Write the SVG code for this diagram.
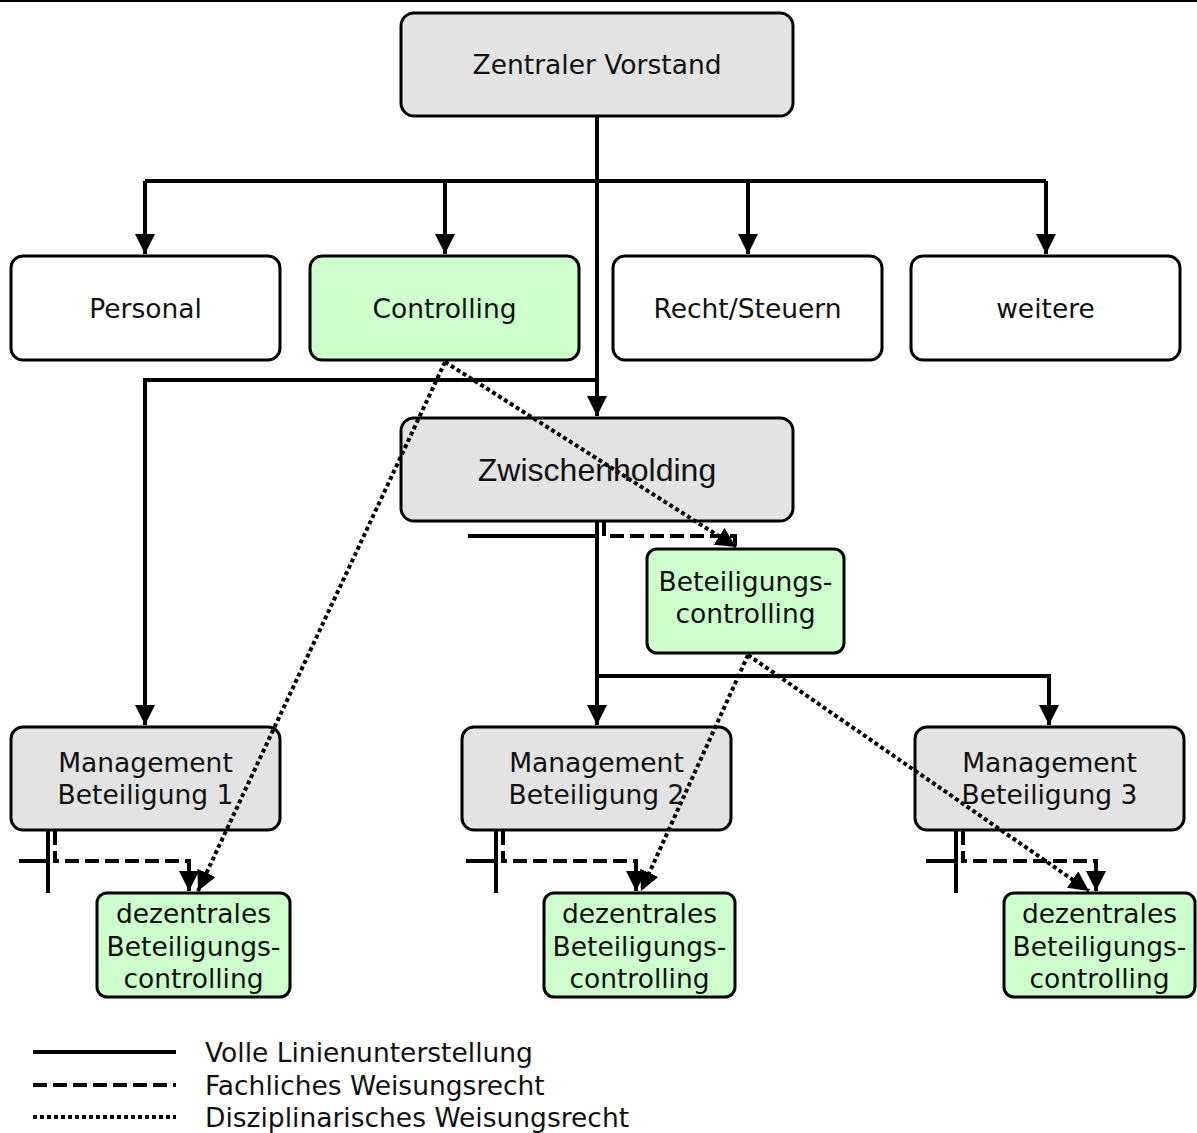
<svg xmlns="http://www.w3.org/2000/svg" width="1197" height="1133" viewBox="0 0 1197 1133">
  <style>
    .box { stroke: #000; stroke-width: 3; }
    .grey { fill: #e3e3e3; }
    .white { fill: #fff; }
    .green { fill: #ccffcc; }
    .lbl { font-family: "DejaVu Sans", Verdana, sans-serif; font-size: 26.5px; fill: #111; text-anchor: middle; }
    .lbl2 { font-family: "Liberation Sans", Arial, sans-serif; font-size: 32px; fill: #111; text-anchor: middle; }
    .leg { font-family: "DejaVu Sans", Verdana, sans-serif; font-size: 26.5px; fill: #111; }
    .solid { fill: none; stroke: #000; stroke-width: 4; }
    .dash { fill: none; stroke: #000; stroke-width: 4; stroke-dasharray: 14 6; }
    .dot { fill: none; stroke: #000; stroke-width: 4; stroke-dasharray: 4 3; }
  </style>
  <defs>
    <marker id="tip" markerWidth="22" markerHeight="22" refX="20" refY="10" markerUnits="userSpaceOnUse" orient="auto">
      <path d="M0,0 L20,10 L0,20 z" fill="#000"/>
    </marker>
  </defs>

  <rect width="1197" height="1133" fill="#fff"/>
  <line x1="0" y1="1" x2="1197" y2="1" stroke="#000" stroke-width="2"/>

  <g id="vorstand">
    <rect class="box grey" x="401" y="13" width="392" height="103" rx="13"/>
    <text class="lbl" x="597" y="74">Zentraler Vorstand</text>
  </g>
  <g id="personal">
    <rect class="box white" x="11" y="256" width="269" height="104" rx="12"/>
    <text class="lbl" x="145.5" y="318">Personal</text>
  </g>
  <g id="controlling">
    <rect class="box green" x="310" y="256" width="269" height="104" rx="12"/>
    <text class="lbl" x="444.5" y="318">Controlling</text>
  </g>
  <g id="recht">
    <rect class="box white" x="613" y="256" width="269" height="104" rx="12"/>
    <text class="lbl" x="747.5" y="318">Recht/Steuern</text>
  </g>
  <g id="weitere">
    <rect class="box white" x="911" y="256" width="269" height="104" rx="12"/>
    <text class="lbl" x="1045.5" y="318">weitere</text>
  </g>
  <g id="zwischenholding">
    <rect class="box grey" x="401" y="418" width="392" height="103" rx="13"/>
    <text class="lbl2" x="597" y="481">Zwischenholding</text>
  </g>
  <g id="beteiligungscontrolling">
    <rect class="box green" x="647" y="549" width="197" height="104" rx="10"/>
    <text class="lbl" x="745.5" y="591">Beteiligungs-</text>
    <text class="lbl" x="745.5" y="623">controlling</text>
  </g>
  <g id="management1">
    <rect class="box grey" x="11" y="727" width="269" height="103" rx="12"/>
    <text class="lbl" x="145.5" y="772">Management</text>
    <text class="lbl" x="145.5" y="804">Beteiligung 1</text>
  </g>
  <g id="management2">
    <rect class="box grey" x="462" y="727" width="269" height="103" rx="12"/>
    <text class="lbl" x="596.5" y="772">Management</text>
    <text class="lbl" x="596.5" y="804">Beteiligung 2</text>
  </g>
  <g id="management3">
    <rect class="box grey" x="915" y="727" width="269" height="103" rx="12"/>
    <text class="lbl" x="1049.5" y="772">Management</text>
    <text class="lbl" x="1049.5" y="804">Beteiligung 3</text>
  </g>
  <g id="dezentral1">
    <rect class="box green" x="97" y="893" width="193" height="104" rx="10"/>
    <text class="lbl" x="193.5" y="923">dezentrales</text>
    <text class="lbl" x="193.5" y="956">Beteiligungs-</text>
    <text class="lbl" x="193.5" y="988">controlling</text>
  </g>
  <g id="dezentral2">
    <rect class="box green" x="544" y="893" width="191" height="104" rx="10"/>
    <text class="lbl" x="639.5" y="923">dezentrales</text>
    <text class="lbl" x="639.5" y="956">Beteiligungs-</text>
    <text class="lbl" x="639.5" y="988">controlling</text>
  </g>
  <g id="dezentral3">
    <rect class="box green" x="1004" y="893" width="191" height="104" rx="10"/>
    <text class="lbl" x="1099.5" y="923">dezentrales</text>
    <text class="lbl" x="1099.5" y="956">Beteiligungs-</text>
    <text class="lbl" x="1099.5" y="988">controlling</text>
  </g>

  <!-- connectors are drawn over the boxes so dotted lines stay visible -->
  <g id="connectors">
    <!-- full line subordination -->
    <path class="solid" d="M597,116 V416" marker-end="url(#tip)"/>
    <path class="solid" d="M145,181 H1046"/>
    <path class="solid" d="M145,181 V254" marker-end="url(#tip)"/>
    <path class="solid" d="M445,181 V254" marker-end="url(#tip)"/>
    <path class="solid" d="M748,181 V254" marker-end="url(#tip)"/>
    <path class="solid" d="M1046,181 V254" marker-end="url(#tip)"/>
    <path class="solid" d="M597,380 H145 V725" marker-end="url(#tip)"/>
    <path class="solid" d="M597,522 V725" marker-end="url(#tip)"/>
    <path class="solid" d="M468,536 H597"/>
    <path class="solid" d="M597,676 H1049 V725" marker-end="url(#tip)"/>
    <path class="solid" d="M48,831 V893 M19,861 H48"/>
    <path class="solid" d="M496,831 V893 M466,861 H496"/>
    <path class="solid" d="M956,831 V893 M926,861 H956"/>

    <!-- technical authority -->
    <path class="dash" d="M604,522 V536 H735 V548"/>
    <path class="dash" d="M55,831 V861 H189 V891" marker-end="url(#tip)"/>
    <path class="dash" d="M503,831 V861 H636 V891" marker-end="url(#tip)"/>
    <path class="dash" d="M963,831 V861 H1096 V891" marker-end="url(#tip)"/>

    <!-- disciplinary authority -->
    <path class="dot" d="M445,362 L198,891" marker-end="url(#tip)"/>
    <path class="dot" d="M445,362 L736,547" marker-end="url(#tip)"/>
    <path class="dot" d="M748,655 L641,891" marker-end="url(#tip)"/>
    <path class="dot" d="M748,655 L1089,891" marker-end="url(#tip)"/>
  </g>

  <g id="legend">
    <line class="solid" x1="33" y1="1052" x2="176" y2="1052"/>
    <line class="dash" x1="33" y1="1085" x2="176" y2="1085"/>
    <line class="dot" x1="33" y1="1117" x2="176" y2="1117" stroke-width="3"/>
    <text class="leg" x="205" y="1062">Volle Linienunterstellung</text>
    <text class="leg" x="205" y="1095">Fachliches Weisungsrecht</text>
    <text class="leg" x="205" y="1127">Disziplinarisches Weisungsrecht</text>
  </g>
</svg>
